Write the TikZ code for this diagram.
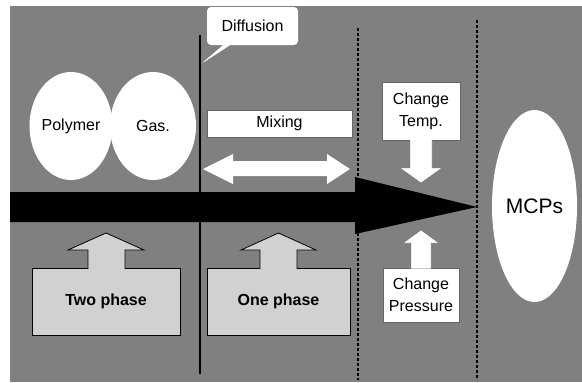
\documentclass[tikz,border=0pt]{standalone}
\usepackage{fontspec}
\setmainfont{Liberation Sans}
\usetikzlibrary{shapes.geometric,shapes.callouts}

\begin{document}
\begin{tikzpicture}[x=1pt,y=-1pt,
    font=\fontsize{16}{22}\selectfont,
    blob/.style={ellipse,fill=white,inner sep=0pt},
    tag/.style={rectangle,fill=white,draw=black!60,inner sep=0pt,align=center},
    phasebox/.style={fill=black!18,draw=black,thick,font=\fontsize{16}{22}\selectfont\bfseries},
    hollow/.style={fill=white,draw=black!60},
    divider/.style={black,very thick},
    stage/.style={black,very thick,densely dashed}]
  \useasboundingbox (0,0) rectangle (582,383);
  \fill[black!50] (10,6) rectangle (582,382);
  \draw[divider] (200,35) -- (200,374);
  \draw[stage] (358,28) -- (358,380);
  \draw[stage] (477,20) -- (477,380);
  \coordinate (tip) at (477,207);
  \fill[black] (10,192) -- (355,192) -- (355,177) -- (tip) -- (355,234) -- (355,222) -- (10,222) -- cycle;
  \node[blob,minimum width=78,minimum height=108] (polymer) at (71,126) {Polymer};
  \node[blob,minimum width=86,minimum height=108] (gas) at (153,126) {Gas.};
  \node[blob,minimum width=85,minimum height=192,font=\fontsize{21}{25}\selectfont] (mcps) at (534.5,206) {MCPs};
  \node[rectangle callout,rounded corners=4pt,fill=white,minimum width=91,minimum height=38,
    callout absolute pointer={(201,64)}] (diffusion) at (252.5,26) {Diffusion};
  \node[tag,minimum width=145,minimum height=27] (mixing) at (279.5,123.5) {Mixing};
  \fill[white] (203,169) -- (233,154) -- (233,161) -- (327,161) -- (327,154) -- (350,169)
    -- (327,184) -- (327,176) -- (233,176) -- (233,184) -- cycle;
  \node[tag,minimum width=78,minimum height=58] (temp) at (421,111) {Change\\Temp.};
  \filldraw[hollow] (410,139.5) -- (410,168) -- (400,168) -- (421,183) -- (442,168) -- (432,168) -- (432,139.5);
  \node[tag,minimum width=76,minimum height=54] (pressure) at (421,295) {Change\\Pressure};
  \filldraw[hollow] (411,268.5) -- (411,243) -- (403,243) -- (421,230) -- (439,243) -- (431,243) -- (431,268.5);
  \node[phasebox,minimum width=148,minimum height=67] (two) at (106,301.5) {Two phase};
  \filldraw[phasebox] (88,269) -- (88,250) -- (68,250) -- (106,233) -- (144,250) -- (125,250) -- (125,269);
  \node[phasebox,minimum width=143,minimum height=67] (one) at (278.5,301.5) {One phase};
  \filldraw[phasebox] (260,269) -- (260,250) -- (241,250) -- (278.5,233) -- (316,250) -- (297,250) -- (297,269);
\end{tikzpicture}
\end{document}
